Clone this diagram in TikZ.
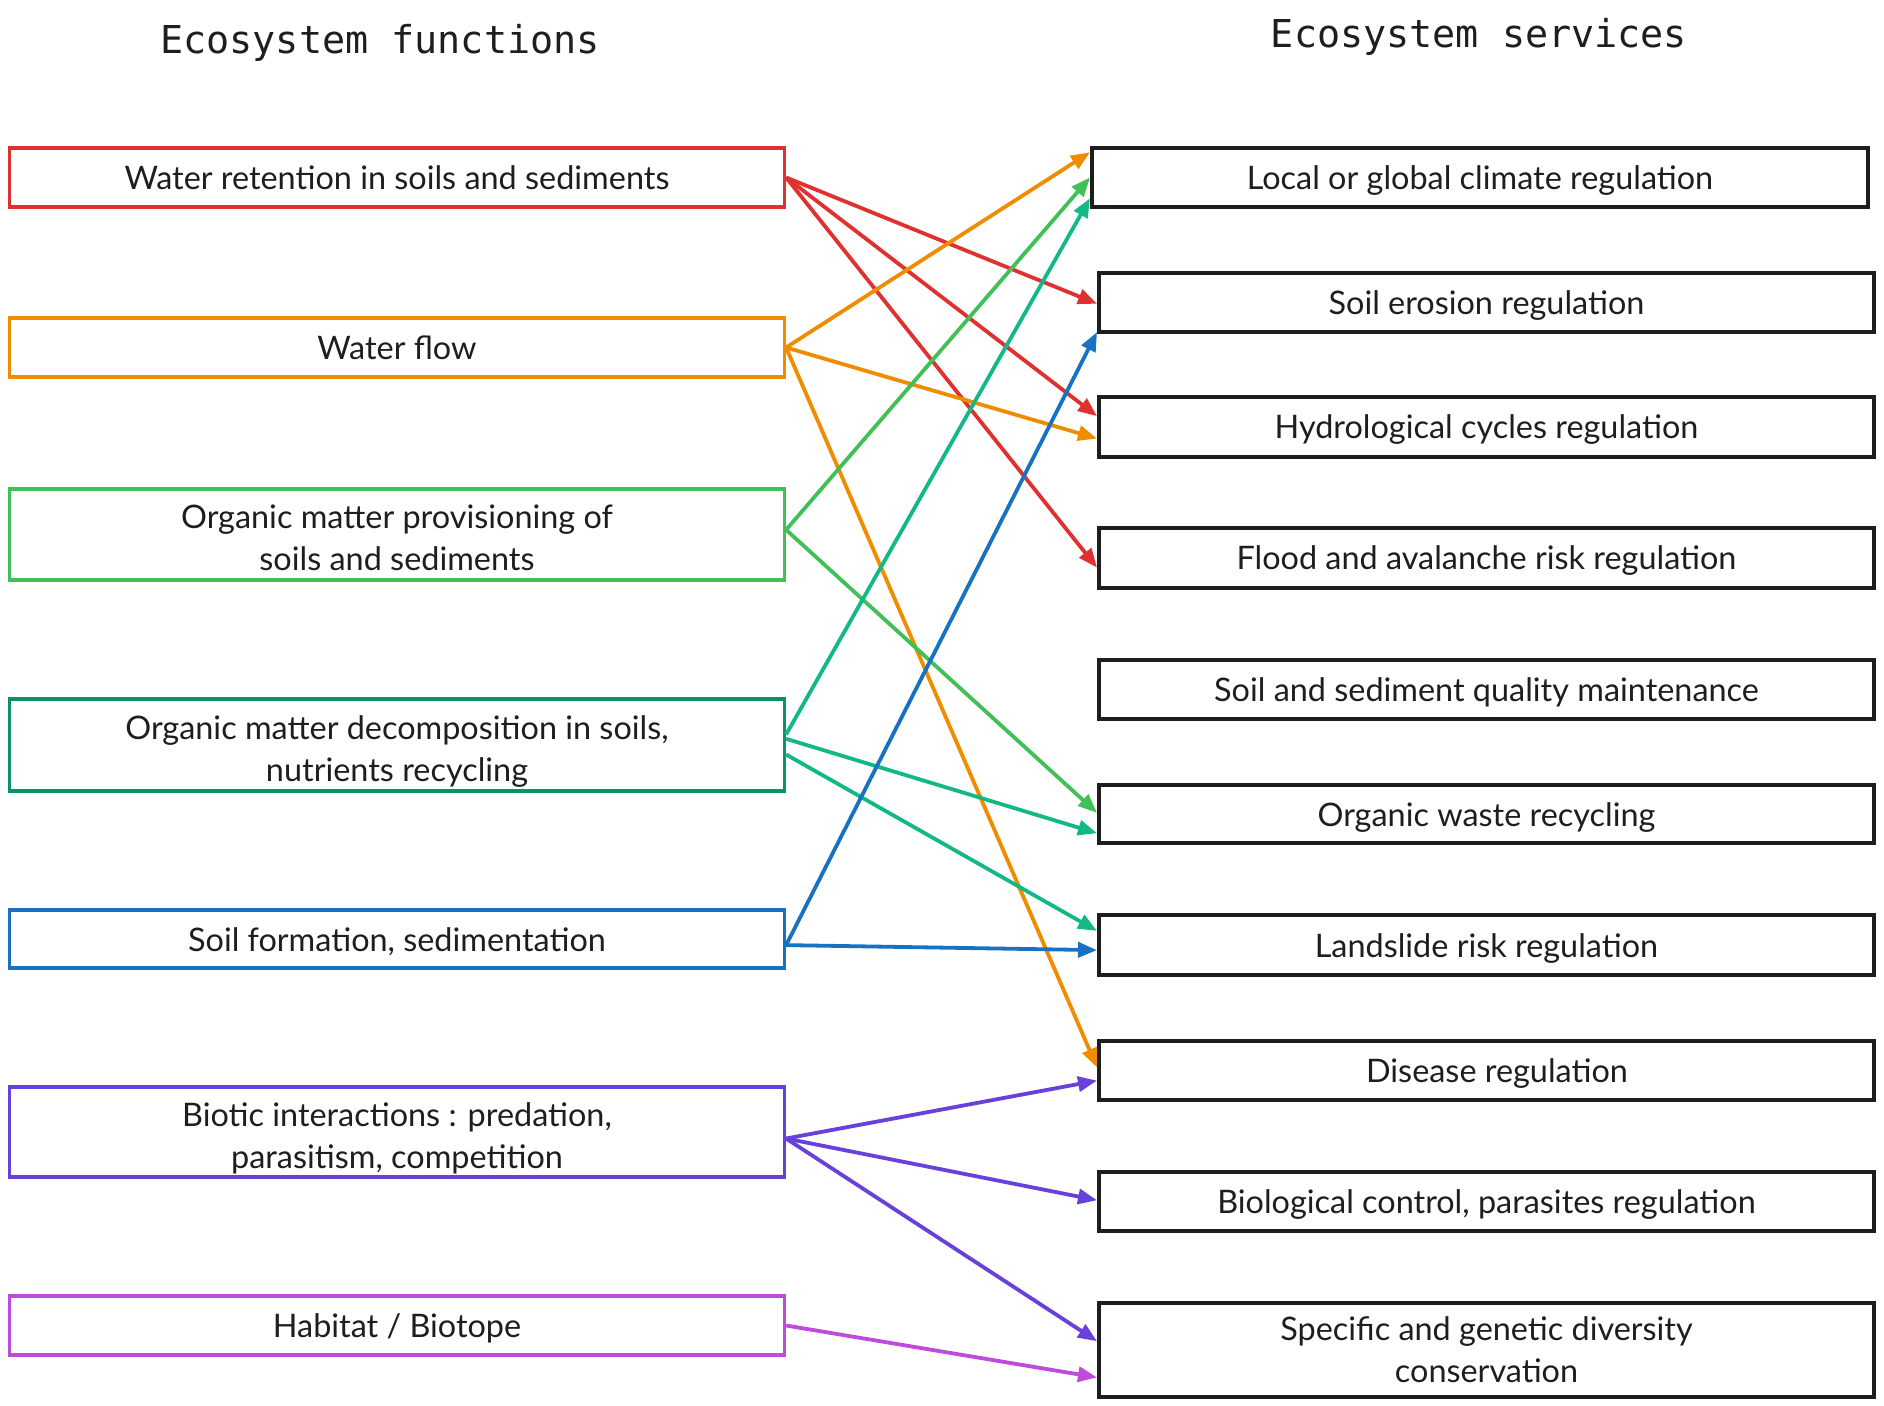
\documentclass[tikz,border=0pt]{standalone}
\usepackage{fontspec}
\setmainfont{Lato}
\newfontfamily\titlefont{DejaVu Sans Mono}
\usetikzlibrary{arrows.meta,calc}
\definecolor{cblack}{HTML}{1E1E1E}
\definecolor{cred}{HTML}{E03131}
\definecolor{corange}{HTML}{F08C00}
\definecolor{cgreen}{HTML}{40C057}
\definecolor{cdkgreen}{HTML}{099268}
\definecolor{cteal}{HTML}{12B886}
\definecolor{cblue}{HTML}{1971C2}
\definecolor{cviolet}{HTML}{6741D9}
\definecolor{cmagenta}{HTML}{BE4BDB}
\newcommand\btxt[2][1.8pt]{\raisebox{-#1}[\height][\depth]{\begin{tabular}{@{}c@{}}#2\end{tabular}}}
\begin{document}
\begin{tikzpicture}[x=0.5pt,y=-0.5pt,
  box/.style={draw, inner sep=0pt, text=cblack,
    font=\fontsize{16.2}{21}\selectfont},
  lbox/.style={box, line width=1.6pt, minimum width=387.5pt},
  rbox/.style={box, line width=2pt, draw=cblack, minimum width=387.5pt},
  ttl/.style={anchor=base, text=cblack, font=\titlefont\fontsize{19.2}{23}\selectfont},
  arr/.style={line width=1.9pt, -{Triangle[length=9.5pt,width=7.5pt]}},
  ]
\useasboundingbox (0,0) rectangle (1884,1406);
\fill[white] (0,0) rectangle (1884,1406);

% titles
\node[ttl] (t1) at (380,53.5) {Ecosystem functions};
\node[ttl] (t2) at (1479,47.5) {Ecosystem services};

% left boxes
\node[lbox, draw=cred, minimum height=29.5pt] (L1) at (397,177.5) {\btxt{Water retention in soils and sediments}};
\node[lbox, draw=corange, minimum height=29.5pt] (L2) at (397,347.5) {\btxt{Water flow}};
\node[lbox, draw=cgreen, minimum height=45.5pt] (L3) at (397,534.5) {\btxt[3.5pt]{Organic matter provisioning of\\soils and sediments}};
\node[lbox, draw=cdkgreen, minimum height=46pt] (L4) at (397,745) {\btxt[3.3pt]{Organic matter decomposition in soils,\\nutrients recycling}};
\node[lbox, draw=cblue, minimum height=29pt] (L5) at (397,939) {\btxt{Soil formation, sedimentation}};
\node[lbox, draw=cviolet, minimum height=45pt] (L6) at (397,1132) {\btxt[3.5pt]{Biotic interactions : predation,\\parasitism, competition}};
\node[lbox, draw=cmagenta, minimum height=29.5pt] (L7) at (397,1325.5) {\btxt{Habitat / Biotope}};

% right boxes
\node[rbox, minimum width=388pt, minimum height=29.5pt] (R1) at (1480,177.5) {\btxt{Local or global climate regulation}};
\node[rbox, minimum height=29.5pt] (R2) at (1486.5,302.5) {\btxt{Soil erosion regulation}};
\node[rbox, minimum height=30pt] (R3) at (1486.5,427) {\btxt{Hydrological cycles regulation}};
\node[rbox, minimum height=30pt] (R4) at (1486.5,558) {\btxt{Flood and avalanche risk regulation}};
\node[rbox, minimum height=29.5pt] (R5) at (1486.5,689.5) {\btxt{Soil and sediment quality maintenance}};
\node[rbox, minimum height=29pt] (R6) at (1486.5,814) {\btxt{Organic waste recycling}};
\node[rbox, minimum height=30pt] (R7) at (1486.5,945) {\btxt{Landslide risk regulation}};
\node[rbox, minimum height=29.5pt] (R8) at (1486.5,1070.5) {};
\node[text=cblack, inner sep=0pt, font=\fontsize{16.2}{21}\selectfont] (R8t) at (1497,1070.5) {\btxt{Disease regulation}};
\node[rbox, minimum height=29.5pt] (R9) at (1486.5,1201.5) {\btxt{Biological control, parasites regulation}};
\node[rbox, minimum height=47pt] (R10) at (1486.5,1350) {\btxt[1.5pt]{Specific and genetic diversity\\conservation}};

% red
\draw[arr, cred] (L1.east) -- ($(R2.north west)!0.52!(R2.south west)$);
\draw[arr, cred] (L1.east) -- ($(R3.north west)!0.33!(R3.south west)$);
\draw[arr, cred] (L1.east) -- ($(R4.north west)!0.65!(R4.south west)$);
% orange
\draw[arr, corange] (L2.east) -- ($(R1.north west)!0.1!(R1.south west)$);
\draw[arr, corange] (L2.east) -- ($(R3.north west)!0.68!(R3.south west)$);
\draw[arr, corange] (L2.east) -- ($(R8.north west)!0.45!(R8.south west)$);
% green
\draw[arr, cgreen] ($(L3.north east)!0.45!(L3.south east)$) -- ($(R1.north west)!0.5!(R1.south west)$);
\draw[arr, cgreen] ($(L3.north east)!0.45!(L3.south east)$) -- ($(R6.north west)!0.48!(R6.south west)$);
% teal
\draw[arr, cteal] ($(L4.north east)!0.39!(L4.south east)$) -- ($(R1.north west)!0.83!(R1.south west)$);
\draw[arr, cteal] ($(L4.north east)!0.435!(L4.south east)$) -- ($(R6.north west)!0.81!(R6.south west)$);
\draw[arr, cteal] ($(L4.north east)!0.6!(L4.south east)$) -- ($(R7.north west)!0.28!(R7.south west)$);
% blue
\draw[arr, cblue] ($(L5.north east)!0.6!(L5.south east)$) -- ($(R2.north west)!0.97!(R2.south west)$);
\draw[arr, cblue] ($(L5.north east)!0.6!(L5.south east)$) -- ($(R7.north west)!0.58!(R7.south west)$);
% violet
\draw[arr, cviolet] ($(L6.north east)!0.57!(L6.south east)$) -- ($(R8.north west)!0.66!(R8.south west)$);
\draw[arr, cviolet] ($(L6.north east)!0.57!(L6.south east)$) -- ($(R9.north west)!0.48!(R9.south west)$);
\draw[arr, cviolet] ($(L6.north east)!0.57!(L6.south east)$) -- ($(R10.north west)!0.41!(R10.south west)$);
% magenta
\draw[arr, cmagenta] (L7.east) -- ($(R10.north west)!0.78!(R10.south west)$);
\end{tikzpicture}
\end{document}
